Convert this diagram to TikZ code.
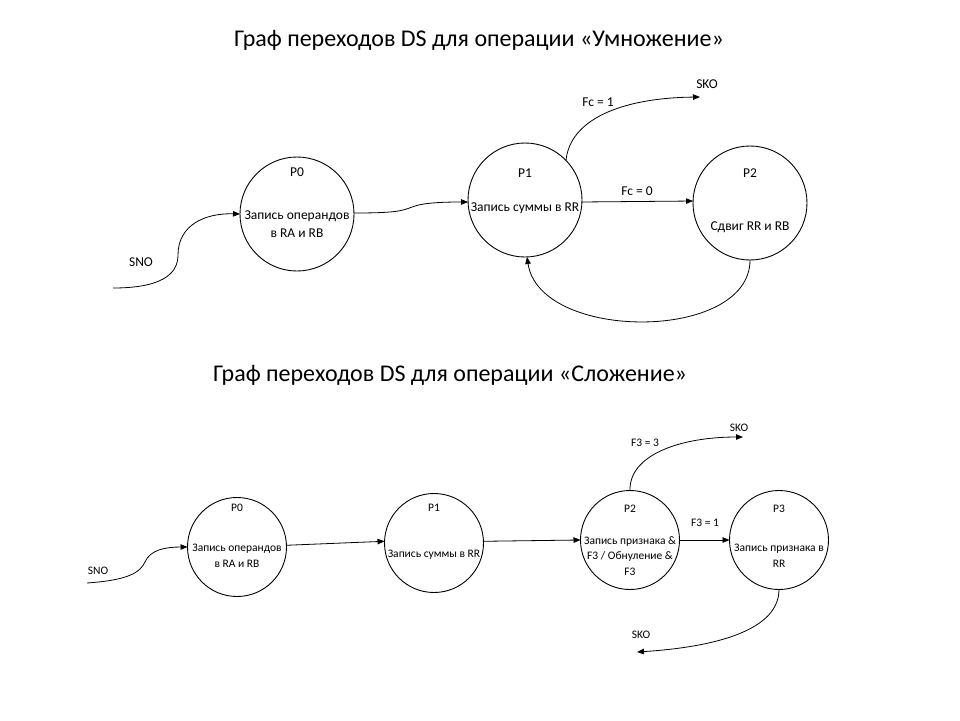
\documentclass[tikz,border=0pt]{standalone}
\usepackage{fontspec}
\setmainfont{Carlito}
\usetikzlibrary{arrows.meta}
\tikzset{
  st/.style={draw, circle, line width=0.9pt, inner sep=0pt, outer sep=0pt},
  big/.style={st, minimum size=114pt},
  small/.style={st, minimum size=99pt},
  ttl/.style={font=\fontsize{24}{28}\selectfont, inner sep=0pt},
  tA/.style={font=\fontsize{13.5}{18}\selectfont, inner sep=0pt, align=center},
  tB/.style={font=\fontsize{11.5}{15.5}\selectfont, inner sep=0pt, align=center},
  conn/.style={line width=0.8pt, -{Triangle[length=7pt,width=5.5pt]}},
}
\begin{document}
\begin{tikzpicture}[x=1pt,y=-1pt]
\path[use as bounding box, fill=white] (0,0) rectangle (960,720);
% ---------- top ----------
\node[ttl] (t1) at (479,40) {Граф переходов DS для операции «Умножение»};
\node[big] (a0) at (297,214) {};
\node[big] (a1) at (525,200) {};
\node[big] (a2) at (750,203) {};
\node[tA] (a0n) at (297,172) {P0};
\node[tA] (a0d) at (297,224) {Запись операндов\\в RA и RB};
\node[tA] (a1n) at (525,173) {P1};
\node[tA] (a1d) at (525,208) {Запись суммы в RR};
\node[tA] (a2n) at (750,173) {P2};
\node[tA] (a2d) at (750,227) {Сдвиг RR и RB};
\node[tA] (sno1) at (141,262) {SNO};
\node[tA] (sko1) at (707,84) {SKO};
\node[tA] (fc1) at (598,102) {Fc = 1};
\node[tA] (fc0) at (637,191) {Fc = 0};
\coordinate (s1) at (113,288);
\coordinate (k1) at (700,97);
\draw[conn] (s1) .. controls (160,288) and (178,275) .. (178,255)
  .. controls (178,225) and (205,213) .. (a0.180);
\draw[conn] (a0.1) .. controls (395,213) and (402,211) .. (412,207)
  .. controls (422,203) and (440,202) .. (a1.182);
\draw[conn] (a1.-2) -- (a2.178);
\draw[conn] (a1.44) .. controls (570,120) and (620,98) .. (k1);
\draw[conn] (a2.-90) .. controls (750,342) and (540,342) .. (a1.-88);
% ---------- bottom ----------
\node[ttl] (t2) at (450,375) {Граф переходов DS для операции «Сложение»};
\node[small] (b0) at (237,547) {};
\node[small] (b1) at (434,543) {};
\node[small] (b2) at (630,540) {};
\node[small] (b3) at (779,540) {};
\node[tB] (b0n) at (237,508) {P0};
\node[tB] (b0d) at (237,556) {Запись операндов\\в RA и RB};
\node[tB] (b1n) at (434,508) {P1};
\node[tB] (b1d) at (434,555) {Запись суммы в RR};
\node[tB] (b2n) at (630,509) {P2};
\node[tB] (b2d) at (630,556) {Запись признака \&\\F3 / Обнуление \&\\F3};
\node[tB] (b3n) at (779,509) {P3};
\node[tB] (b3d) at (779,556) {Запись признака в\\RR};
\node[tB] (sno2) at (98,571) {SNO};
\node[tB] (sko2) at (739,428) {SKO};
\node[tB] (sko3) at (641,635) {SKO};
\node[tB] (f33) at (645,443) {F3 = 3};
\node[tB] (f31) at (705,523) {F3 = 1};
\coordinate (s2) at (87,583);
\coordinate (k2) at (743,437);
\coordinate (k3) at (637,652);
\draw[conn] (s2) .. controls (130,580) and (140,572) .. (145,562)
  .. controls (150,550) and (165,547) .. (b0.180);
\draw[conn] (b0.2) -- (b1.178);
\draw[conn] (b1.2) -- (b2.180);
\draw[conn] (b2.0) -- (b3.180);
\draw[conn] (b2.90) .. controls (629,455) and (680,437) .. (k2);
\draw[conn] (b3.-90) .. controls (779,635) and (700,648) .. (k3);
\end{tikzpicture}
\end{document}
